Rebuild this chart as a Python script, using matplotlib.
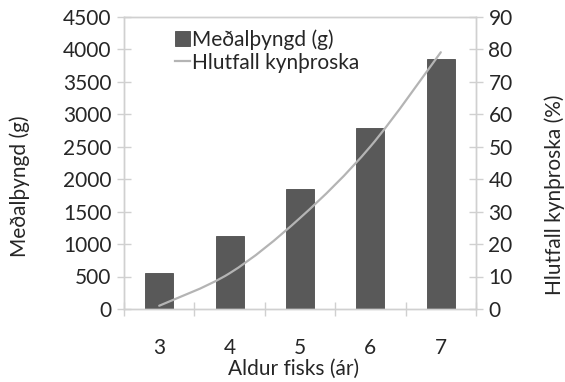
import matplotlib
matplotlib.use("Agg")
import matplotlib.pyplot as plt
from matplotlib.path import Path
from matplotlib.patches import PathPatch
from matplotlib.lines import Line2D
from matplotlib.patches import Patch

# Data
ages = ["3", "4", "5", "6", "7"]
mean_weight = [550, 1120, 1850, 2780, 3850]
maturity_pct = [1, 11, 28, 50, 79]
left_ticks = [0, 500, 1000, 1500, 2000, 2500, 3000, 3500, 4000, 4500]
right_ticks = [0, 10, 20, 30, 40, 50, 60, 70, 80, 90]

plt.rcParams['font.family'] = ['Lato', 'DejaVu Sans']
FS = 15
TXT = '#262626'
AX = '#d0d0d0'
BAR = '#595959'
LINE = '#b4b4b4'

fig = plt.figure(figsize=(5.65, 3.82), dpi=100)
ax = fig.add_axes([124/565, 73/382, 352/565, 292.5/382])
ax2 = ax.twinx()

x = list(range(len(ages)))
ax.bar(x, mean_weight, width=0.4, color=BAR, edgecolor='#4d4d4d', linewidth=0.6, zorder=2)
ax.set_xlim(-0.5, len(ages) - 0.5)
ax.set_ylim(0, 4500)
ax.set_yticks(left_ticks)
ax.set_xticks(x)
ax.set_xticklabels(ages)
ax.set_xticks([i - 0.5 for i in range(len(ages) + 1)], minor=True)
ax.tick_params(axis='x', which='major', length=0, pad=21, labelsize=FS, labelcolor=TXT)
ax.tick_params(axis='x', which='minor', direction='inout', length=10, width=1.0, color=AX)
ax.tick_params(axis='y', direction='inout', length=10, width=1.0, color=AX, labelsize=FS, labelcolor=TXT, pad=4)

ax2.set_ylim(0, 90)
ax2.set_yticks(right_ticks)
ax2.tick_params(axis='y', direction='inout', length=10, width=1.0, color=AX, labelsize=FS, labelcolor=TXT, pad=4)

for a in (ax, ax2):
    for s in a.spines.values():
        s.set_color(AX)
        s.set_linewidth(1.0)

# smoothed line (Catmull-Rom -> cubic Bezier) through the data points
pts = list(zip(x, maturity_pct))
verts = [pts[0]]
codes = [Path.MOVETO]
n = len(pts)
for i in range(n - 1):
    p0 = pts[max(i - 1, 0)]
    p1 = pts[i]
    p2 = pts[i + 1]
    p3 = pts[min(i + 2, n - 1)]
    c1 = (p1[0] + (p2[0] - p0[0]) / 6, p1[1] + (p2[1] - p0[1]) / 6)
    c2 = (p2[0] - (p3[0] - p1[0]) / 6, p2[1] - (p3[1] - p1[1]) / 6)
    verts += [c1, c2, p2]
    codes += [Path.CURVE4] * 3
ax2.add_patch(PathPatch(Path(verts, codes), facecolor='none', edgecolor=LINE,
                        linewidth=1.6, capstyle='round', zorder=3))

xl = ax.set_xlabel("Aldur fisks (ár)", fontsize=FS, color=TXT, va='center')
ax.xaxis.set_label_coords((294 - 124) / 352, -(369 - 309) / 292.5)
yl = ax.set_ylabel("Meðalþyngd (g)", fontsize=FS, color=TXT, va='center')
ax.yaxis.set_label_coords(-(124 - 20) / 352, (309 - 186) / 292.5)
yr = ax2.set_ylabel("Hlutfall kynþroska (%)", fontsize=FS, color=TXT, va='center')
ax2.yaxis.set_label_coords((555 - 124) / 352, (309 - 195) / 292.5)

handles = [Patch(facecolor=BAR, edgecolor='#4d4d4d', linewidth=0.6),
           Line2D([0], [0], color=LINE, linewidth=1.6)]
leg = ax.legend(handles, ["Meðalþyngd (g)", "Hlutfall kynþroska"], frameon=False,
                loc='upper left', bbox_to_anchor=((175 - 124) / 352, (309 - 29) / 292.5),
                fontsize=FS, handlelength=0.7, handleheight=0.7, handletextpad=0.1,
                labelspacing=0.15, borderpad=0, borderaxespad=0)
for t in leg.get_texts():
    t.set_color(TXT)

fig.savefig("out.png", dpi=100)
